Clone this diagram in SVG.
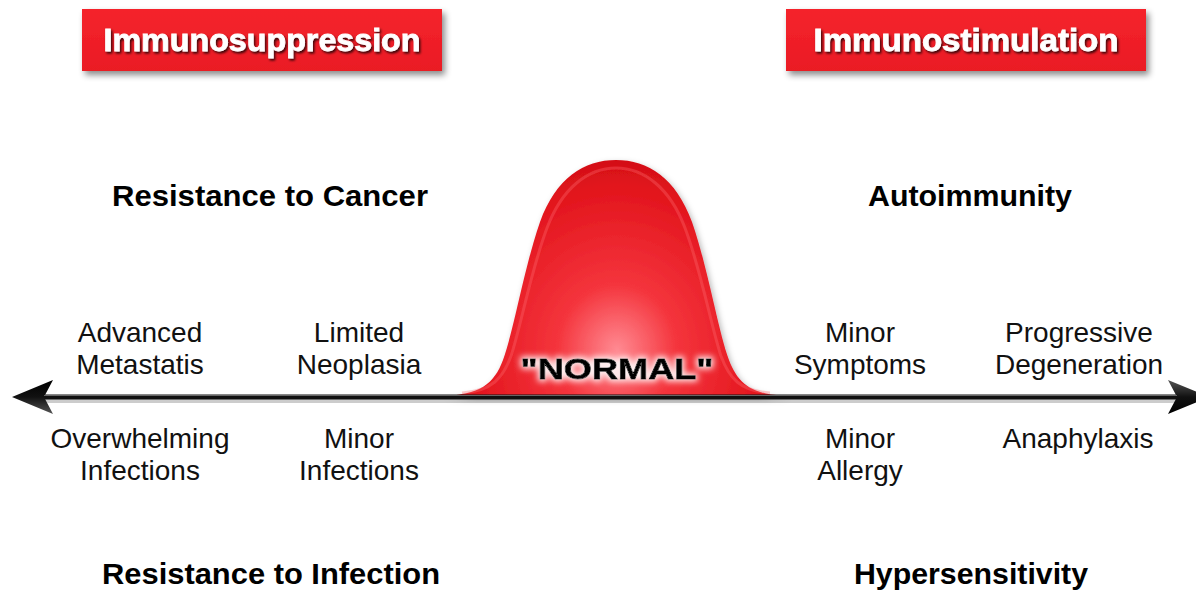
<svg xmlns="http://www.w3.org/2000/svg" width="1196" height="590" viewBox="0 0 1196 590">
<style>
.hdr{font-family:"Liberation Sans",Arial,sans-serif;font-weight:bold;font-size:31px;fill:#fff;stroke:#fff;stroke-width:0.8;text-anchor:middle;filter:url(#tshadow)}
.bold{font-family:"Liberation Sans",Arial,sans-serif;font-weight:bold;font-size:30px;fill:#000;text-anchor:middle}
.lbl{font-family:"Liberation Sans",Arial,sans-serif;font-size:28px;fill:#111;text-anchor:middle}
.box{fill:url(#boxg);filter:url(#bshadow)}
</style>
<defs>
<linearGradient id="boxg" x1="0" y1="0" x2="0" y2="1">
<stop offset="0" stop-color="#f5242c"/><stop offset="1" stop-color="#ea1a24"/>
</linearGradient>
<radialGradient id="bellg" cx="617" cy="350" r="200" gradientUnits="userSpaceOnUse" gradientTransform="translate(617 350) scale(1 1.1) translate(-617 -350)">
<stop offset="0" stop-color="#ff8a92"/><stop offset="0.3" stop-color="#f4343c"/><stop offset="0.75" stop-color="#e2141c"/><stop offset="1" stop-color="#c00a10"/>
</radialGradient>
<linearGradient id="arrowg" x1="0" y1="0" x2="0" y2="1">
<stop offset="0" stop-color="#555"/><stop offset="0.5" stop-color="#111"/><stop offset="1" stop-color="#000"/>
</linearGradient>
<filter id="tshadow" x="-10%" y="-30%" width="120%" height="160%">
<feDropShadow dx="1.5" dy="2" stdDeviation="1" flood-color="#000" flood-opacity="0.75"/>
</filter>
<filter id="bshadow" x="-10%" y="-30%" width="120%" height="170%">
<feDropShadow dx="3" dy="4" stdDeviation="3" flood-color="#000" flood-opacity="0.45"/>
</filter>
<filter id="glow" x="-20%" y="-50%" width="140%" height="200%">
<feMorphology in="SourceAlpha" operator="dilate" radius="2" result="d"/>
<feGaussianBlur in="d" stdDeviation="3" result="b"/>
<feFlood flood-color="#fff" flood-opacity="0.9"/>
<feComposite in2="b" operator="in" result="w"/>
<feMerge><feMergeNode in="w"/><feMergeNode in="SourceGraphic"/></feMerge>
</filter>
<filter id="bellshadow" x="-10%" y="-10%" width="120%" height="120%">
<feDropShadow dx="2" dy="3" stdDeviation="3" flood-color="#000" flood-opacity="0.3"/>
</filter>
<marker id="arrow" markerUnits="userSpaceOnUse" markerWidth="42" markerHeight="34" viewBox="0 0 42 34" refX="9" refY="17" orient="auto-start-reverse" overflow="visible">
<path d="M0,0 L41,17 L0,34 L9,17 Z" fill="url(#arrowg)"/>
</marker>
</defs>
<rect width="1196" height="590" fill="#fff"/>

<g id="immunosuppression">
<rect class="box" x="82" y="9" width="360" height="62"/>
<text class="hdr" x="262" y="51" textLength="317" lengthAdjust="spacingAndGlyphs">Immunosuppression</text>
</g>
<g id="immunostimulation">
<rect class="box" x="786" y="9" width="360" height="62"/>
<text class="hdr" x="966" y="51" textLength="305" lengthAdjust="spacingAndGlyphs">Immunostimulation</text>
</g>

<g id="normal">
<path d="M442,396 C480,395 494,384 503,360 C514,330 524,268 540,222 C556,178 584,160 616,160 C648,160 676,178 692,222 C708,268 718,330 729,360 C738,384 752,395 788,396 Z" fill="url(#bellg)" filter="url(#bellshadow)"/>
<path d="M462,393 C492,391 503,378 511,356 C521,326 531,270 547,228 C562,188 588,168 616,168 C644,168 670,188 685,228 C701,270 711,326 721,356 C729,378 740,391 770,393" fill="none" stroke="#ff6a70" stroke-opacity="0.35" stroke-width="3"/>
<text class="bold" x="617" y="379" font-size="36" stroke="#000" stroke-width="0.8" textLength="193" lengthAdjust="spacingAndGlyphs" filter="url(#glow)">"NORMAL"</text>
</g>

<g id="connectors">
<line x1="44" y1="400" x2="1177" y2="400" stroke="#000" stroke-opacity="0.2" stroke-width="6"/>
<line x1="44" y1="397" x2="1177" y2="397" stroke="#111" stroke-width="5" marker-start="url(#arrow)" marker-end="url(#arrow)"/>
<line x1="44" y1="395.5" x2="1177" y2="395.5" stroke="#666" stroke-width="1"/>
</g>

<g id="resistance-cancer"><text class="bold" x="270" y="206" textLength="316" lengthAdjust="spacingAndGlyphs">Resistance to Cancer</text></g>
<g id="autoimmunity"><text class="bold" x="970" y="206" textLength="204" lengthAdjust="spacingAndGlyphs">Autoimmunity</text></g>
<g id="resistance-infection"><text class="bold" x="271" y="584" textLength="338" lengthAdjust="spacingAndGlyphs">Resistance to Infection</text></g>
<g id="hypersensitivity"><text class="bold" x="971" y="584" textLength="234" lengthAdjust="spacingAndGlyphs">Hypersensitivity</text></g>

<g id="advanced-metastatis"><text class="lbl" x="140" y="342">Advanced</text><text class="lbl" x="140" y="374">Metastatis</text></g>
<g id="limited-neoplasia"><text class="lbl" x="359" y="342">Limited</text><text class="lbl" x="359" y="374">Neoplasia</text></g>
<g id="minor-symptoms"><text class="lbl" x="860" y="342">Minor</text><text class="lbl" x="860" y="374">Symptoms</text></g>
<g id="progressive-degeneration"><text class="lbl" x="1079" y="342">Progressive</text><text class="lbl" x="1079" y="374">Degeneration</text></g>
<g id="overwhelming-infections"><text class="lbl" x="140" y="448">Overwhelming</text><text class="lbl" x="140" y="480">Infections</text></g>
<g id="minor-infections"><text class="lbl" x="359" y="448">Minor</text><text class="lbl" x="359" y="480">Infections</text></g>
<g id="minor-allergy"><text class="lbl" x="860" y="448">Minor</text><text class="lbl" x="860" y="480">Allergy</text></g>
<g id="anaphylaxis"><text class="lbl" x="1078" y="448">Anaphylaxis</text></g>
</svg>
